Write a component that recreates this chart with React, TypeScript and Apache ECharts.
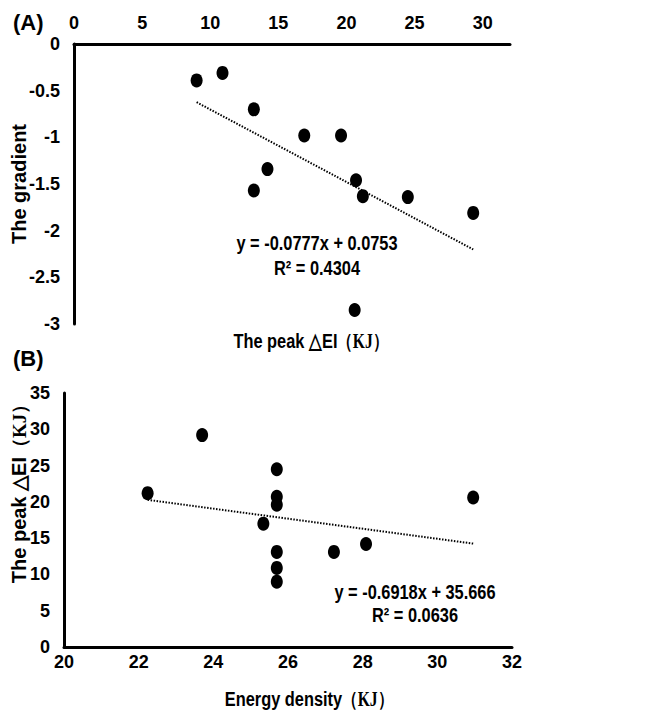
import React, { useEffect, useRef } from "react";
import * as echarts from "echarts";

// Panel A: peak ΔEI (x) vs gradient (y)
const aPeakEI = [9.0, 10.9, 13.2, 16.9, 19.6, 14.2, 13.2, 20.7, 21.2, 24.5, 29.3, 20.6];
const aGradient = [-0.39, -0.31, -0.7, -0.98, -0.98, -1.34, -1.57, -1.46, -1.63, -1.64, -1.81, -2.85];
const aSlope = -0.0777;
const aIntercept = 0.0753;
const aEquation = "y = -0.0777x + 0.0753";
const aR2 = "R² = 0.4304";

// Panel B: energy density (x) vs peak ΔEI (y)
const bEnergyDensity = [22.24, 23.7, 25.7, 25.7, 25.7, 25.34, 25.7, 25.7, 25.7, 27.23, 28.09, 30.96];
const bPeakEI = [21.2, 29.2, 24.5, 20.7, 19.6, 17.0, 13.1, 10.9, 9.0, 13.1, 14.2, 20.6];
const bSlope = -0.6918;
const bIntercept = 35.666;
const bEquation = "y = -0.6918x + 35.666";
const bR2 = "R² = 0.0636";

const SANS = "'Liberation Sans', Arial, sans-serif";
const SERIF = "'Liberation Serif', 'Times New Roman', serif";
const SQUEEZE = 0.78;

function trend(xs: number[], m: number, c: number) {
  const lo = Math.min(...xs);
  const hi = Math.max(...xs);
  return [
    [lo, m * lo + c],
    [hi, m * hi + c],
  ];
}

export default function App() {
  const ref = useRef<HTMLDivElement>(null);
  useEffect(() => {
    if (!ref.current) return;
    const chart = echarts.init(ref.current, undefined, { renderer: "svg" });
    const axisLine = { show: true, onZero: false, lineStyle: { color: "#000", width: 3 } };
    const labelStyle = { color: "#000", fontWeight: "bold" as const, fontSize: 18, fontFamily: SANS };
    const titleRich = {
      s: { fontFamily: SANS, fontWeight: "bold" as const, fontSize: 21, fill: "#000" },
      k: { fontFamily: SERIF, fontWeight: "bold" as const, fontSize: 20, fill: "#000" },
    };
    const eqText = (text: string, x: number, y: number) => ({
      type: "text",
      x,
      y,
      scaleX: SQUEEZE,
      style: { text, font: `bold 21px ${SANS}`, fill: "#000", align: "center", verticalAlign: "middle" },
    });
    chart.setOption({
      animation: false,
      backgroundColor: "#fff",
      grid: [
        { left: 74, top: 44, width: 436, height: 280 },
        { left: 64, top: 393, width: 448, height: 254 },
      ],
      xAxis: [
        {
          gridIndex: 0,
          type: "value",
          position: "top",
          min: 0,
          max: 32,
          interval: 5,
          axisLine,
          axisTick: { show: false },
          splitLine: { show: false },
          axisLabel: { ...labelStyle, margin: 12, showMaxLabel: false },
        },
        {
          gridIndex: 1,
          type: "value",
          min: 20,
          max: 32,
          interval: 2,
          axisLine,
          axisTick: { show: false },
          splitLine: { show: false },
          axisLabel: { ...labelStyle, margin: 6 },
        },
      ],
      yAxis: [
        {
          gridIndex: 0,
          type: "value",
          min: -3,
          max: 0,
          interval: 0.5,
          axisLine,
          axisTick: { show: false },
          splitLine: { show: false },
          axisLabel: { ...labelStyle, margin: 14 },
        },
        {
          gridIndex: 1,
          type: "value",
          min: 0,
          max: 35,
          interval: 5,
          axisLine,
          axisTick: { show: false },
          splitLine: { show: false },
          axisLabel: { ...labelStyle, margin: 14 },
        },
      ],
      series: [
        {
          type: "scatter",
          xAxisIndex: 0,
          yAxisIndex: 0,
          symbol: "circle",
          symbolSize: [12, 14],
          itemStyle: { color: "#000", opacity: 1 },
          data: aPeakEI.map((x, i) => [x, aGradient[i]]),
          z: 3,
        },
        {
          type: "line",
          xAxisIndex: 0,
          yAxisIndex: 0,
          symbol: "none",
          lineStyle: { color: "#000", width: 2, type: [1.5, 1.5] },
          data: trend(aPeakEI, aSlope, aIntercept),
          z: 2,
        },
        {
          type: "scatter",
          xAxisIndex: 1,
          yAxisIndex: 1,
          symbol: "circle",
          symbolSize: [12, 14],
          itemStyle: { color: "#000", opacity: 1 },
          data: bEnergyDensity.map((x, i) => [x, bPeakEI[i]]),
          z: 3,
        },
        {
          type: "line",
          xAxisIndex: 1,
          yAxisIndex: 1,
          symbol: "none",
          lineStyle: { color: "#000", width: 2, type: [1.5, 1.5] },
          data: trend(bEnergyDensity, bSlope, bIntercept),
          z: 2,
        },
      ],
      graphic: [
        { type: "text", left: 13, top: 11, style: { text: "(A)", font: `bold 22px ${SANS}`, fill: "#000" } },
        { type: "text", left: 13, top: 347, style: { text: "(B)", font: `bold 22px ${SANS}`, fill: "#000" } },
        eqText(aEquation, 317, 243),
        eqText(aR2, 317, 268),
        eqText(bEquation, 415, 592),
        eqText(bR2, 415, 615),
        {
          type: "text",
          x: 311,
          y: 341,
          scaleX: SQUEEZE,
          style: { text: "{s|The peak △EI}{k|（KJ）}", rich: titleRich, align: "center", verticalAlign: "middle" },
        },
        {
          type: "text",
          x: 309,
          y: 699,
          scaleX: SQUEEZE,
          style: { text: "{s|Energy density}{k|（KJ）}", rich: titleRich, align: "center", verticalAlign: "middle" },
        },
        {
          type: "text",
          x: 19,
          y: 184,
          rotation: Math.PI / 2,
          style: { text: "The gradient", font: `bold 20px ${SANS}`, fill: "#000", align: "center", verticalAlign: "middle" },
        },
        {
          type: "text",
          x: 19,
          y: 489,
          rotation: Math.PI / 2,
          style: {
            text: "{s|The peak △EI}{k|（KJ）}",
            rich: {
              s: { fontFamily: SANS, fontWeight: "bold", fontSize: 20, fill: "#000" },
              k: { fontFamily: SERIF, fontWeight: "bold", fontSize: 19, fill: "#000" },
            },
            align: "center",
            verticalAlign: "middle",
          },
        },
      ],
    });
    return () => chart.dispose();
  }, []);
  return <div ref={ref} style={{ position: "absolute", left: 0, top: 0, width: 654, height: 710 }} />;
}
